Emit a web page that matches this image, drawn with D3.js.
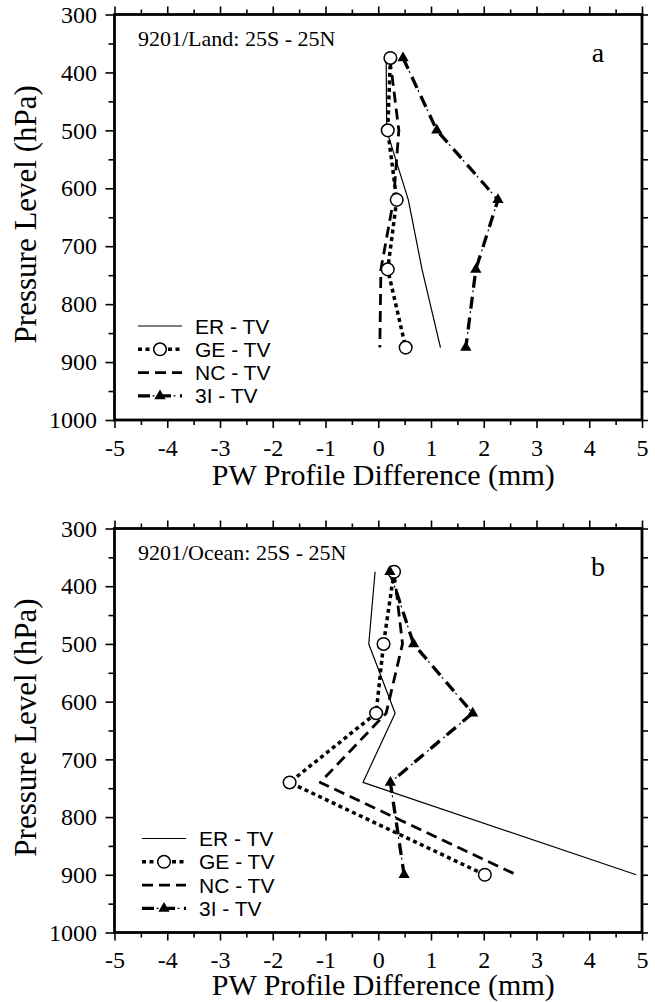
<!DOCTYPE html>
<html>
<head>
<meta charset="utf-8">
<script src="https://cdn.jsdelivr.net/npm/d3@7"></script>
<style>
  body { margin: 0; background: #fff; }
</style>
</head>
<body>
<script>
// pressure levels (hPa) of the profile points
var landLevels = [375, 500, 620, 740, 875];
var oceanLevels = [375, 500, 620, 740, 900];

// PW profile difference (mm), panel a (land)
var landER = [0.15, 0.16, 0.57, 0.83, 1.18];
var landGE = [0.23, 0.18, 0.35, 0.18, 0.52];
var landNC = [0.22, 0.39, 0.29, 0.05, 0.03];
var land3I = [0.47, 1.11, 2.27, 1.85, 1.66];

// PW profile difference (mm), panel b (ocean)
var oceanER = [-0.06, -0.18, 0.32, -0.29, 4.89];
var oceanGE = [0.30, 0.10, -0.04, -1.68, 2.02];
var oceanNC = [0.30, 0.46, 0.15, -1.10, 2.62];
var ocean3I = [0.22, 0.67, 1.79, 0.23, 0.49];

var seriesNames = ["ER - TV", "GE - TV", "NC - TV", "3I - TV"];
var panelTitles = ["9201/Land: 25S - 25N", "9201/Ocean: 25S - 25N"];
var panelLetters = ["a", "b"];
var xTickValues = [-5, -4, -3, -2, -1, 0, 1, 2, 3, 4, 5];
var yTickValues = [300, 400, 500, 600, 700, 800, 900, 1000];
var xLabel = "PW Profile Difference (mm)";
var yLabel = "Pressure Level (hPa)";

var W = 655, H = 1002;
var serif = "'Liberation Serif', 'Times New Roman', serif";
var sans = "'Liberation Sans', Arial, sans-serif";

//line styles, one per series
var styles = [
  { width: 1.2, dash: null, marker: null },
  { width: 3.5, dash: "4,3.5", marker: "circle" },
  { width: 2.8, dash: "11,6", marker: null },
  { width: 3.3, dash: "12,9", marker: "triangle" }
];

var panels = [
  { top: 14.5, bottom: 420, levels: landLevels, series: [landER, landGE, landNC, land3I], legX: 138, titleDy: 65 },
  { top: 528.5, bottom: 932.5, levels: oceanLevels, series: [oceanER, oceanGE, oceanNC, ocean3I], legX: 142, titleDy: 62.5 }
];

var svg = d3.select("body").append("svg").attr("width", W).attr("height", H);

var x = d3.scaleLinear().domain([-5, 5]).range([114.5, 642]);
var xMinor = d3.range(-5, 5.01, 0.5);
var yMinor = d3.range(300, 1001, 50);

var tri = d3.symbol().type(d3.symbolTriangle).size(55);

panels.forEach(function (p, i) {
  var y = d3.scaleLinear().domain([300, 1000]).range([p.top, p.bottom]);
  var g = svg.append("g");

  //left axis
  g.append("g")
    .attr("transform", "translate(" + x.range()[0] + ",0)")
    .call(d3.axisLeft(y).tickValues(yMinor).tickSize(9).tickPadding(8.5)
      .tickFormat(function (d) { return yTickValues.indexOf(d) >= 0 ? d : ""; }))
    .call(function (a) {
      a.select(".domain").remove();
      a.selectAll("line").attr("stroke-width", 1.6)
        .attr("x2", function (d) { return d % 100 == 0 ? -9 : -6; });
      a.selectAll("text").style("font-family", serif).style("font-size", "24px").attr("fill", "#000");
    });

  //right axis
  g.append("g")
    .attr("transform", "translate(" + x.range()[1] + ",0)")
    .call(d3.axisRight(y).tickValues(yMinor).tickSize(6).tickFormat(""))
    .call(function (a) {
      a.select(".domain").remove();
      a.selectAll("line").attr("stroke-width", 1.6);
    });

  //bottom axis
  g.append("g")
    .attr("transform", "translate(0," + p.bottom + ")")
    .call(d3.axisBottom(x).tickValues(xMinor).tickSize(8)
      .tickFormat(function (d) { return xTickValues.indexOf(d) >= 0 ? d : ""; }))
    .call(function (a) {
      a.select(".domain").remove();
      a.selectAll("line").attr("stroke-width", 1.6)
        .attr("y2", function (d) { return d % 1 == 0 ? 8 : 5; });
      a.selectAll("text").attr("y", 35.5).attr("dy", null)
        .style("font-family", serif).style("font-size", "24px").attr("fill", "#000");
    });

  //top axis
  g.append("g")
    .attr("transform", "translate(0," + p.top + ")")
    .call(d3.axisTop(x).tickValues(xMinor).tickSize(8).tickFormat(""))
    .call(function (a) {
      a.select(".domain").remove();
      a.selectAll("line").attr("stroke-width", 1.6)
        .attr("y2", function (d) { return d % 1 == 0 ? -8 : -5; });
    });

  //frame
  g.append("rect")
    .attr("x", x.range()[0])
    .attr("y", p.top)
    .attr("width", x.range()[1] - x.range()[0])
    .attr("height", p.bottom - p.top)
    .attr("fill", "none")
    .attr("stroke", "#000")
    .attr("stroke-width", 2.8);

  //profiles
  var line = d3.line()
    .x(function (d) { return x(d[0]); })
    .y(function (d) { return y(d[1]); });

  p.series.forEach(function (vals, k) {
    var pts = vals.map(function (v, j) { return [v, p.levels[j]]; });
    var st = styles[k];
    g.append("path")
      .attr("d", line(pts))
      .attr("fill", "none")
      .attr("stroke", "#000")
      .attr("stroke-width", st.width)
      .attr("stroke-dasharray", st.dash)
      .attr("stroke-linejoin", "round");
    if (k == 3) {
      // thin dot of the dash-dot pattern
      g.append("path")
        .attr("d", line(pts))
        .attr("fill", "none")
        .attr("stroke", "#000")
        .attr("stroke-width", 1.2)
        .attr("stroke-dasharray", "0,14.5,2,4.5");
    }
  });

  p.series.forEach(function (vals, k) {
    var st = styles[k];
    if (st.marker == "circle") {
      g.selectAll(".ge" + i)
        .data(vals)
        .enter()
        .append("circle")
        .attr("cx", function (d) { return x(d); })
        .attr("cy", function (d, j) { return y(p.levels[j]); })
        .attr("r", 6.3)
        .attr("fill", "#fff")
        .attr("stroke", "#000")
        .attr("stroke-width", 1.5);
    }
    if (st.marker == "triangle") {
      g.selectAll(".ti" + i)
        .data(vals)
        .enter()
        .append("path")
        .attr("d", tri)
        .attr("transform", function (d, j) {
          return "translate(" + x(d) + "," + y(p.levels[j]) + ")";
        })
        .attr("fill", "#000");
    }
  });

  //panel texts
  g.append("text")
    .attr("x", 138)
    .attr("y", p.top + 31.5)
    .style("font-family", serif)
    .style("font-size", "22px")
    .text(panelTitles[i]);

  g.append("text")
    .attr("x", 598)
    .attr("y", p.top + 47)
    .attr("text-anchor", "middle")
    .style("font-family", serif)
    .style("font-size", "28px")
    .text(panelLetters[i]);

  //axis titles
  g.append("text")
    .attr("x", (x.range()[0] + x.range()[1]) / 2 + 5)
    .attr("y", p.bottom + p.titleDy)
    .attr("text-anchor", "middle")
    .style("font-family", serif)
    .style("font-size", "30px")
    .text(xLabel);

  g.append("text")
    .attr("transform", "translate(36," + ((p.top + p.bottom) / 2 - 3) + ") rotate(-90)")
    .attr("text-anchor", "middle")
    .style("font-family", serif)
    .style("font-size", "31px")
    .text(yLabel);

  //legend
  var leg = g.append("g");
  seriesNames.forEach(function (name, k) {
    var by = p.bottom - 86.5 + k * 23.3;
    var ly = by - 7.5;
    var st = styles[k];
    leg.append("line")
      .attr("x1", p.legX).attr("x2", p.legX + 44)
      .attr("y1", ly).attr("y2", ly)
      .attr("stroke", "#000")
      .attr("stroke-width", st.width)
      .attr("stroke-dasharray", st.dash);
    if (k == 3) {
      leg.append("line")
        .attr("x1", p.legX).attr("x2", p.legX + 44)
        .attr("y1", ly).attr("y2", ly)
        .attr("stroke", "#000")
        .attr("stroke-width", 1.2)
        .attr("stroke-dasharray", "0,14.5,2,4.5");
    }
    if (st.marker == "circle") {
      leg.append("circle")
        .attr("cx", p.legX + 22).attr("cy", ly).attr("r", 6.3)
        .attr("fill", "#fff").attr("stroke", "#000").attr("stroke-width", 1.5);
    }
    if (st.marker == "triangle") {
      leg.append("path")
        .attr("d", tri)
        .attr("transform", "translate(" + (p.legX + 22) + "," + ly + ")")
        .attr("fill", "#000");
    }
    leg.append("text")
      .attr("x", p.legX + 57)
      .attr("y", by)
      .style("font-family", sans)
      .style("font-size", "21px")
      .text(name);
  });
});
</script>
</body>
</html>
